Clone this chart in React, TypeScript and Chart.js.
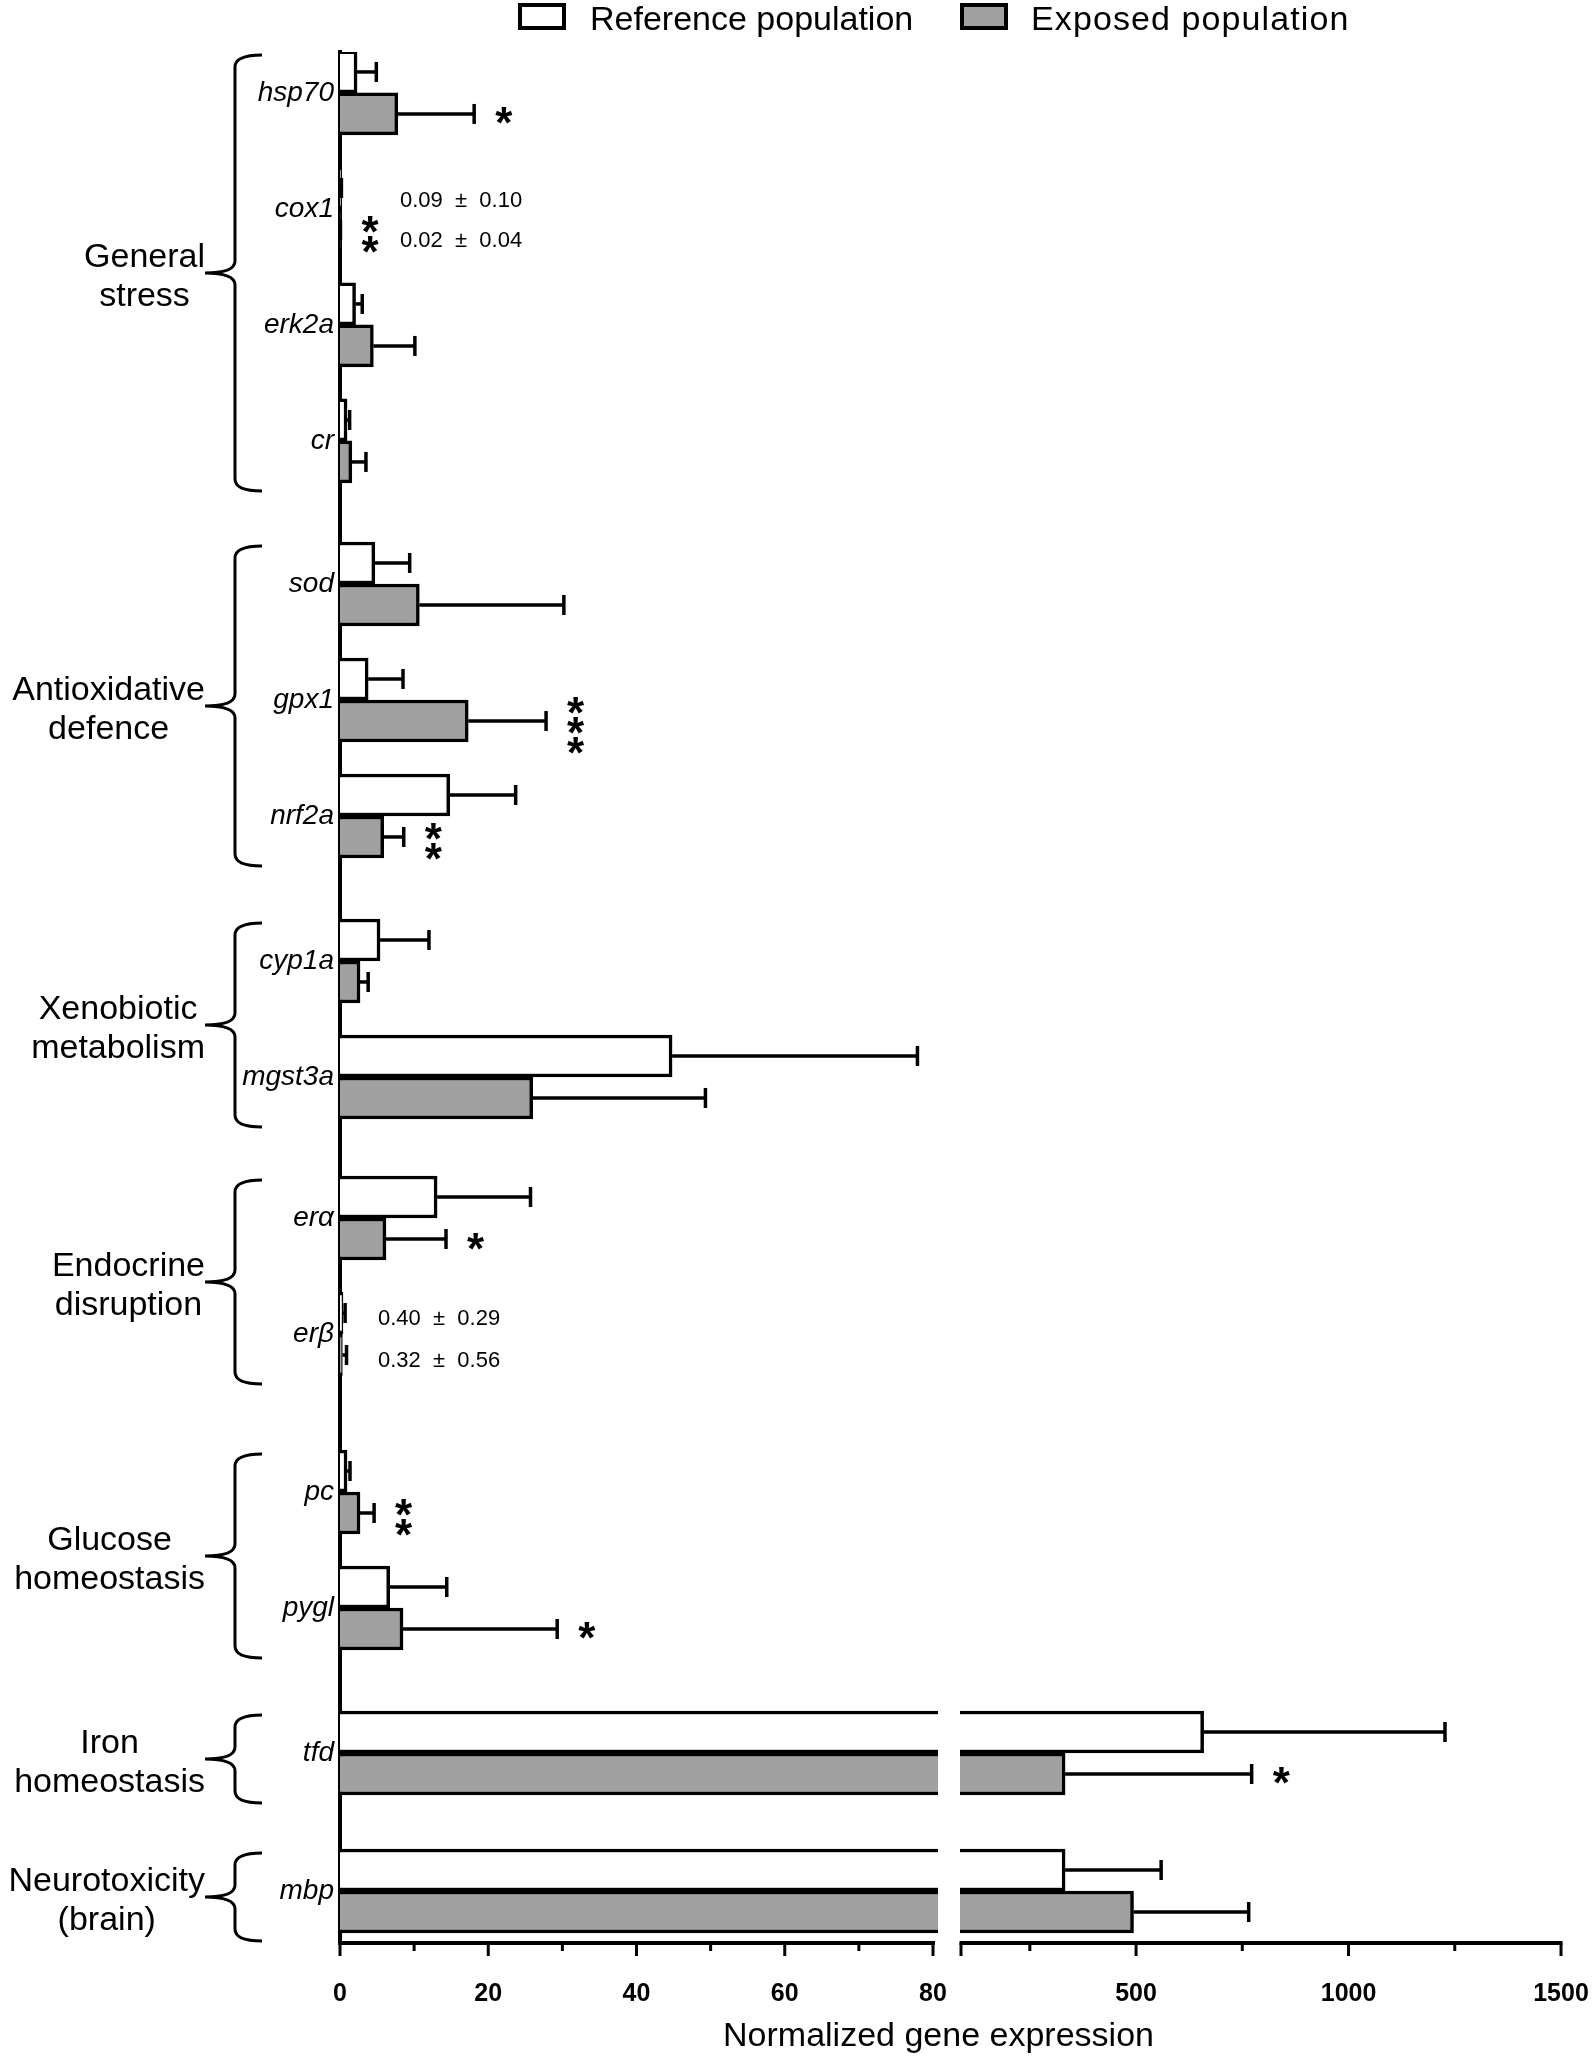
import React, { useEffect, useRef } from 'react';
import { Chart, registerables, LinearScale } from 'chart.js';

Chart.register(...registerables);

// ---------------- data ----------------
const GENES = ['hsp70', 'cox1', 'erk2a', 'cr', 'sod', 'gpx1', 'nrf2a', 'cyp1a', 'mgst3a', 'erα', 'erβ', 'pc', 'pygl', 'tfd', 'mbp'];
const GROUP_NAMES = [
  ['General', 'stress'],
  ['Antioxidative', 'defence'],
  ['Xenobiotic', 'metabolism'],
  ['Endocrine', 'disruption'],
  ['Glucose', 'homeostasis'],
  ['Iron', 'homeostasis'],
  ['Neurotoxicity', '(brain)'],
];
const GENE_GROUP = [0, 0, 0, 0, 1, 1, 1, 2, 2, 3, 3, 4, 4, 5, 6];
const REF_MEAN = [2.3, 0.09, 2.1, 0.95, 4.7, 3.8, 14.8, 5.4, 44.8, 13.1, 0.40, 0.95, 6.7, 659, 333];
const REF_SD = [2.6, 0.10, 0.9, 0.35, 4.7, 4.7, 8.9, 6.6, 33.1, 12.6, 0.29, 0.40, 7.7, 568, 226];
const EXP_MEAN = [7.8, 0.02, 4.5, 1.6, 10.7, 17.3, 5.9, 2.7, 26.0, 6.2, 0.32, 2.7, 8.5, 333, 494];
const EXP_SD = [10.3, 0.04, 5.6, 1.9, 19.5, 10.5, 2.7, 1.1, 23.3, 8.1, 0.56, 1.9, 20.8, 439, 271];
const SIGNIF = ['*', '**', '', '', '', '***', '**', '', '', '*', '', '**', '*', '*', ''];
const ANNOTATED = ['cox1', 'erβ'];
const SERIES = ['Reference population', 'Exposed population'];
const X_TICKS = [0, 10, 20, 30, 40, 50, 60, 70, 80, 88, 250, 500, 750, 1000, 1250, 1500];
const X_TICK_LABELS = [0, 20, 40, 60, 80, 500, 1000, 1500];
const X_TITLE = 'Normalized gene expression';

// axis break: 0..80 | 88..1500
const BREAK_LOW = 80;
const BREAK_HIGH = 88;
const X_MAX = 1500;

// ---------------- layout helpers ----------------
const FONT = '"Liberation Sans", Arial, Helvetica, sans-serif';
// extra vertical space (in category units) inserted before each group
const GROUP_GAP_BEFORE = [0, 0.233, 0.25, 0.216, 0.362, 0.25, 0.19];
const GAP_CUM = GROUP_GAP_BEFORE.map((_, g) => GROUP_GAP_BEFORE.slice(0, g + 1).reduce((a, b) => a + b, 0));
const POS = GENES.map((_, i) => i + GAP_CUM[GENE_GROUP[i]]);

const GAP_PX = 28;
const LEFT_FRAC = 593 / 1193;

class BrokenLinearScale extends LinearScale {
  static id = 'brokenLinear';
  static defaults = LinearScale.defaults;
  buildTicks() {
    return X_TICKS.map((v) => ({ value: v }));
  }
  _segs() {
    const L = this.left;
    const R = this.right;
    const usable = R - L - GAP_PX;
    const w1 = usable * LEFT_FRAC;
    return { L, R, w1, r0: L + w1 + GAP_PX };
  }
  getPixelForValue(value) {
    const { L, R, w1, r0 } = this._segs();
    if (value <= BREAK_LOW) return L + (value / BREAK_LOW) * w1;
    const v = Math.max(value, BREAK_HIGH);
    return r0 + ((v - BREAK_HIGH) / (X_MAX - BREAK_HIGH)) * (R - r0);
  }
  getValueForPixel(pixel) {
    const { L, R, w1, r0 } = this._segs();
    if (pixel <= L + w1) return ((pixel - L) / w1) * BREAK_LOW;
    if (pixel < r0) return BREAK_LOW;
    return BREAK_HIGH + ((pixel - r0) / (R - r0)) * (X_MAX - BREAK_HIGH);
  }
}
Chart.register(BrokenLinearScale);

function drawStar(ctx, cx, cy) {
  const m = ctx.measureText('*');
  const x = cx - (m.actualBoundingBoxRight - m.actualBoundingBoxLeft) / 2;
  const y = cy + (m.actualBoundingBoxAscent - m.actualBoundingBoxDescent) / 2;
  ctx.fillText('*', x, y);
}

const extrasPlugin = {
  id: 'extras',
  afterDatasetsDraw(chart) {
    const { ctx, chartArea } = chart;
    const xs = chart.scales.x;
    const ys = chart.scales.y;
    ctx.save();
    ctx.strokeStyle = '#000';
    ctx.fillStyle = '#000';
    ctx.lineCap = 'butt';

    // error bars (positive side)
    const sets = [
      [REF_MEAN, REF_SD],
      [EXP_MEAN, EXP_SD],
    ];
    sets.forEach(([means, sds], di) => {
      const meta = chart.getDatasetMeta(di);
      meta.data.forEach((bar, i) => {
        const x0 = xs.getPixelForValue(means[i]);
        const x1 = xs.getPixelForValue(means[i] + sds[i]);
        const y = bar.y;
        ctx.lineWidth = 3.5;
        ctx.beginPath();
        ctx.moveTo(x0, y);
        ctx.lineTo(x1, y);
        ctx.stroke();
        ctx.beginPath();
        ctx.moveTo(x1, y - 10);
        ctx.lineTo(x1, y + 10);
        ctx.stroke();
      });
    });

    // axis break mask
    const pLow = xs.getPixelForValue(BREAK_LOW);
    const pHigh = xs.getPixelForValue(BREAK_HIGH);
    ctx.fillStyle = '#fff';
    ctx.fillRect(pLow + 5, chartArea.top, pHigh - 1 - (pLow + 5), chartArea.bottom - chartArea.top + 30);
    ctx.fillStyle = '#000';

    // x axis line with break
    const yA = chartArea.bottom;
    ctx.lineWidth = 4;
    ctx.beginPath();
    ctx.moveTo(xs.getPixelForValue(0) - 2, yA);
    ctx.lineTo(pLow + 2, yA);
    ctx.moveTo(pHigh - 1.5, yA);
    ctx.lineTo(xs.getPixelForValue(X_MAX) + 1.5, yA);
    ctx.stroke();
    ctx.lineWidth = 3;
    xs.ticks.forEach((t) => {
      const px = xs.getPixelForValue(t.value);
      const major = X_TICK_LABELS.includes(t.value) || t.value === BREAK_HIGH;
      ctx.beginPath();
      ctx.moveTo(px, yA);
      ctx.lineTo(px, yA + (major ? 13 : 8));
      ctx.stroke();
    });

    // x axis title
    ctx.font = `34px ${FONT}`;
    ctx.textAlign = 'center';
    ctx.textBaseline = 'alphabetic';
    ctx.fillText(X_TITLE, (xs.left + xs.right) / 2 - 12, 2046);

    // significance stars
    ctx.font = `bold 44px ${FONT}`;
    ctx.textAlign = 'left';
    const expMeta = chart.getDatasetMeta(1);
    SIGNIF.forEach((s, i) => {
      if (!s) return;
      const bar = expMeta.data[i];
      const cx = xs.getPixelForValue(EXP_MEAN[i] + EXP_SD[i]) + 30;
      const n = s.length;
      const cy0 = bar.y + (n > 1 ? 5 : 2);
      for (let k = 0; k < n; k++) drawStar(ctx, cx, cy0 + (k - (n - 1) / 2) * 20);
    });

    // mean ± SD notes for tiny values
    const noteLayout = { cox1: [60, -8, 32], 'erβ': [38, -15, 27] };
    ctx.font = `22px ${FONT}`;
    ctx.textAlign = 'left';
    ctx.textBaseline = 'middle';
    ANNOTATED.forEach((g) => {
      const i = GENES.indexOf(g);
      const [dx, dy1, dy2] = noteLayout[g];
      const yc = ys.getPixelForValue(POS[i]);
      const x = chartArea.left + dx;
      ctx.fillText(`${REF_MEAN[i].toFixed(2)}  ±  ${REF_SD[i].toFixed(2)}`, x, yc + dy1);
      ctx.fillText(`${EXP_MEAN[i].toFixed(2)}  ±  ${EXP_SD[i].toFixed(2)}`, x, yc + dy2);
    });

    // braces + group labels
    const bx = chartArea.left - 105;
    const armX = chartArea.left - 78;
    const nubX = chartArea.left - 135;
    ctx.lineWidth = 3;
    ctx.font = `34px ${FONT}`;
    ctx.textAlign = 'center';
    ctx.textBaseline = 'alphabetic';
    GROUP_NAMES.forEach((lines, g) => {
      const idx = GENES.map((_, i) => i).filter((i) => GENE_GROUP[i] === g);
      const y1 = ys.getPixelForValue(POS[idx[0]]);
      const y2 = ys.getPixelForValue(POS[idx[idx.length - 1]]);
      const top = y1 - 38;
      const bottom = y2 + 50;
      const mid = (top + bottom) / 2;
      const r = 12;
      ctx.beginPath();
      ctx.moveTo(armX, top);
      ctx.quadraticCurveTo(bx, top, bx, top + r);
      ctx.lineTo(bx, mid - r);
      ctx.quadraticCurveTo(bx, mid, nubX, mid);
      ctx.moveTo(nubX, mid);
      ctx.quadraticCurveTo(bx, mid, bx, mid + r);
      ctx.lineTo(bx, bottom - r);
      ctx.quadraticCurveTo(bx, bottom, armX, bottom);
      ctx.stroke();
      const w = Math.max(...lines.map((l) => ctx.measureText(l).width));
      const cx = nubX - w / 2;
      ctx.fillText(lines[0], cx, mid - 6);
      ctx.fillText(lines[1], cx, mid + 33);
    });

    // legend
    const legendItems = [
      { box: 518, text: 590, fill: '#ffffff', spacing: '0px' },
      { box: 960, text: 1031, fill: '#a0a0a0', spacing: '1.1px' },
    ];
    ctx.textAlign = 'left';
    ctx.font = `34px ${FONT}`;
    legendItems.forEach((it, k) => {
      ctx.fillStyle = it.fill;
      ctx.fillRect(it.box, 3, 48, 27);
      ctx.lineWidth = 4;
      ctx.strokeRect(it.box + 2, 5, 44, 23);
      ctx.fillStyle = '#000';
      ctx.letterSpacing = it.spacing;
      ctx.fillText(SERIES[k], it.text, 30);
    });
    ctx.letterSpacing = '0px';

    ctx.restore();
  },
};

export default function App() {
  const ref = useRef<HTMLCanvasElement | null>(null);
  useEffect(() => {
    if (!ref.current) return;
    Chart.defaults.font.family = FONT;
    Chart.defaults.color = '#000';
    const chart = new Chart(ref.current, {
      type: 'bar',
      data: {
        datasets: [
          {
            label: SERIES[0],
            data: GENES.map((_, i) => ({ x: REF_MEAN[i], y: POS[i] })),
            backgroundColor: '#ffffff',
            borderColor: '#000000',
            borderWidth: 3.5,
            barThickness: 42,
          },
          {
            label: SERIES[1],
            data: GENES.map((_, i) => ({ x: EXP_MEAN[i], y: POS[i] })),
            backgroundColor: '#a0a0a0',
            borderColor: '#000000',
            borderWidth: 3.5,
            barThickness: 42,
          },
        ],
      },
      options: {
        indexAxis: 'y',
        responsive: false,
        animation: false,
        devicePixelRatio: 1,
        layout: { padding: { top: 52, right: 34, bottom: 0, left: 0 } },
        plugins: { legend: { display: false }, tooltip: { enabled: false } },
        scales: {
          x: {
            type: 'brokenLinear',
            position: 'bottom',
            min: 0,
            max: X_MAX,
            grid: { display: false, drawTicks: false },
            border: { display: false },
            ticks: {
              autoSkip: false,
              maxRotation: 0,
              padding: 36,
              color: '#000',
              font: { size: 25, weight: 'bold', family: FONT },
              callback: (v) => (X_TICK_LABELS.includes(v) ? String(v) : ''),
            },
            title: { display: false, text: X_TITLE },
            afterFit: (s) => {
              s.height = 113;
              s.paddingLeft = 0;
              s.paddingRight = 0;
            },
          },
          y: {
            type: 'linear',
            position: 'left',
            reverse: true,
            offset: false,
            min: -0.353,
            max: POS[POS.length - 1] + 0.448,
            z: 1,
            grid: { display: false, drawTicks: false },
            border: { display: true, width: 4, color: '#000' },
            afterBuildTicks: (s) => {
              s.ticks = POS.map((v) => ({ value: v }));
            },
            ticks: {
              autoSkip: false,
              padding: 6,
              color: '#000',
              font: { size: 28, style: 'italic', family: FONT },
              callback: (_v, i) => GENES[i],
            },
            afterFit: (s) => {
              s.width = 340;
              s.paddingTop = 0;
              s.paddingBottom = 0;
            },
          },
        },
      },
      plugins: [extrasPlugin],
    });
    return () => chart.destroy();
  }, []);
  return (
    <div style={{ position: 'absolute', left: 0, top: 0, width: 1595, height: 2056, background: '#fff' }}>
      <canvas ref={ref} width={1595} height={2056} style={{ width: 1595, height: 2056, display: 'block' }} />
    </div>
  );
}
